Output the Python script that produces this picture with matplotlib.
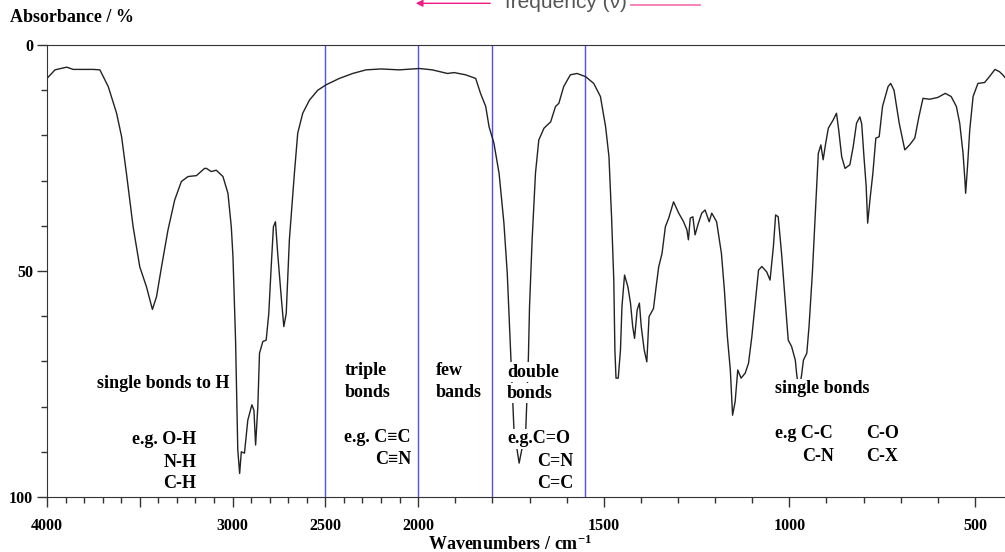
import numpy as np
import matplotlib.pyplot as plt
from matplotlib.lines import Line2D

plt.rcParams['font.family'] = ['Liberation Serif', 'DejaVu Serif']
plt.rcParams['font.weight'] = 'bold'
plt.rcParams['mathtext.fontset'] = 'custom'
plt.rcParams['mathtext.rm'] = 'Liberation Serif:bold'
plt.rcParams['mathtext.it'] = 'Liberation Serif:bold'

# spectrum
wavenumber = [4000, 3957, 3894, 3859, 3751, 3715, 3670, 3625, 3598, 3572, 3536, 3500,
              3464, 3432, 3410, 3383, 3348, 3312, 3276, 3240, 3195, 3151, 3141, 3115,
              3088, 3052, 3025, 3007, 2998, 2984, 2977, 2972, 2962, 2953, 2936, 2918,
              2896, 2885, 2876, 2864, 2855, 2837, 2819, 2805, 2792, 2780, 2769, 2757,
              2738, 2724, 2711, 2694, 2667, 2649, 2622, 2586, 2541, 2496, 2425, 2353,
              2281, 2200, 2102, 1997, 1962, 1921, 1903, 1872, 1845, 1832, 1818, 1809,
              1796, 1782, 1769, 1760, 1742, 1728, 1710, 1703, 1700, 1693, 1684, 1675,
              1661, 1643, 1630, 1621, 1608, 1590, 1572, 1549, 1527, 1509, 1495, 1486,
              1479, 1473, 1470, 1467, 1461, 1455, 1451, 1444, 1435, 1428, 1422, 1417,
              1410, 1404, 1399, 1391, 1384, 1378, 1366, 1360, 1352, 1343, 1334, 1325,
              1312, 1298, 1285, 1276, 1272, 1267, 1260, 1254, 1245, 1236, 1227, 1216,
              1209, 1196, 1183, 1175, 1167, 1159, 1153, 1146, 1139, 1130, 1119, 1110,
              1101, 1092, 1083, 1074, 1061, 1052, 1043, 1037, 1030, 1021, 1012, 1003,
              994, 984, 980, 974, 967, 962, 953, 947, 938, 929, 922, 915, 909, 902, 895,
              882, 873, 867, 859, 850, 837, 828, 819, 810, 805, 799, 793, 789, 782, 775,
              767, 758, 749, 734, 727, 718, 704, 689, 676, 662, 651, 640, 622, 600, 580,
              564, 550, 541, 532, 527, 525, 520, 514, 505, 492, 474, 461, 446, 434, 425,
              419]
absorbance = [7.4, 5.5, 4.9, 5.4, 5.4, 5.5, 9.2, 15.1, 20.3, 28.4, 40.2, 49.1,
              53.5, 58.5, 55.7, 49.1, 40.9, 34.3, 30.2, 29.1, 28.9, 27.3, 27.3, 28.0,
              27.7, 29.1, 32.8, 40.2, 46.8, 65.3, 80.0, 89.6, 94.8, 90.0, 90.3, 83.0,
              79.6, 80.8, 88.5, 80.0, 68.2, 65.6, 65.3, 59.4, 49.1, 40.2, 39.1, 46.1,
              55.7, 62.3, 59.4, 43.1, 28.4, 19.5, 15.1, 12.2, 10.0, 8.8, 7.4, 6.3,
              5.5, 5.3, 5.5, 5.2, 5.5, 6.3, 6.1, 6.6, 7.4, 10.7, 13.6, 18.1,
              21.7, 28.4, 39.4, 50.5, 85.0, 92.5, 85.0, 69.0, 57.9, 43.1, 28.4, 21.0,
              18.4, 17.0, 13.6, 12.9, 9.2, 6.6, 6.3, 7.0, 8.5, 11.4, 18.1, 24.7,
              38.0, 52.0, 67.5, 73.7, 73.7, 67.5, 57.9, 50.9, 53.5, 57.1, 62.3, 64.9,
              58.6, 57.1, 62.3, 67.5, 70.1, 60.1, 58.3, 54.2, 49.1, 46.1, 40.2, 38.3,
              34.7, 37.2, 39.1, 40.9, 43.1, 38.3, 38.0, 42.0, 39.4, 37.2, 36.5, 39.1,
              37.2, 39.1, 46.1, 54.2, 64.5, 71.9, 81.9, 78.9, 71.9, 73.7, 72.6, 70.4,
              64.5, 57.1, 49.8, 49.0, 50.2, 52.0, 44.6, 37.6, 38.0, 46.1, 55.7, 65.3,
              66.7, 69.7, 73.0, 76.5, 73.0, 69.7, 68.2, 62.3, 50.5, 35.8, 24.0, 22.1, 25.4, 21.7, 18.4,
              16.6, 15.1, 18.8, 24.7, 27.3, 26.5, 22.5, 17.3, 15.9, 17.5, 24.7, 31.3, 39.4, 33.6, 28.4,
              20.6, 20.3, 13.6, 9.2, 8.5, 10.0, 17.3, 23.2, 22.1, 20.6, 15.9, 11.8, 12.0, 11.6, 10.7,
              11.4, 13.6, 17.3, 24.0, 29.9, 32.8, 26.9, 18.8, 11.4, 8.5, 8.3, 7.0, 5.4, 5.9, 6.6,
              7.2]

region_edges = [2500, 2000, 1800, 1550]
major_ticks = [4000, 3500, 3000, 2500, 2000, 1500, 1000, 500]
major_labels = ['4000', '', '3000', '2500', '2000', '1500', '1000', '500']

# (wavenumber, absorbance, text, alignment)
notes = [
    (3731, 75.8, 'single bonds to H', 'left'),
    (3194, 88.3, 'e.g. O-H', 'right'),
    (3194, 93.3, 'N-H', 'right'),
    (3194, 98.0, 'C-H', 'right'),
    (2398, 73.0, 'triple', 'left'),
    (2398, 77.8, 'bonds', 'left'),
    (2398, 87.8, 'e.g. C\u2261C', 'left'),
    (2231, 92.7, 'C\u2261N', 'left'),
    (1952, 73.0, 'few', 'left'),
    (1952, 77.8, 'bands', 'left'),
    (1761, 73.4, 'double', 'left'),
    (1761, 78.0, 'bonds', 'left'),
    (1761, 88.1, 'e.g.C=O', 'left'),
    (1680, 93.1, 'C=N', 'left'),
    (1680, 97.9, 'C=C', 'left'),
    (1040, 77.1, 'single bonds', 'left'),
    (1040, 87.0, 'e.g C-C', 'left'),
    (793, 87.0, 'C-O', 'left'),
    (965, 92.0, 'C-N', 'left'),
    (793, 92.0, 'C-X', 'left'),
]


# wavenumber axis: 2000-4000 at half the scale of 400-2000
def forward(x):
    x = np.asarray(x, float)
    return np.where(x > 2000, x + 2000, 2 * x)


def inverse(u):
    u = np.asarray(u, float)
    return np.where(u > 4000, u - 2000, u / 2)


fig = plt.figure(figsize=(10.05, 5.52), dpi=100)
ax = fig.add_axes([47 / 1005, 55 / 552, 958 / 1005, 452 / 552])
ax.set_xscale('function', functions=(forward, inverse))
ax.set_xlim(4000, 419)
ax.set_ylim(100, 0)

for edge in region_edges:
    ax.axvline(edge, color='#5050ff', lw=1, zorder=1)

ax.plot(wavenumber, absorbance, color='#222222', lw=1, zorder=2)

for wn, pct, label, align in notes:
    ax.text(wn, pct, label, fontsize=13, ha=align, va='baseline', zorder=3,
            bbox=dict(fc='white', ec='none', pad=1))

ax.set_xticks(major_ticks)
ax.set_xticklabels(major_labels)
ax.set_xticks(np.arange(500, 4001, 100), minor=True)
ax.set_yticks([0, 50, 100])
ax.set_yticks(np.arange(0, 101, 10), minor=True)
ax.tick_params(which='both', direction='out', color='#333333', width=1,
               labelsize=11.5)
ax.tick_params(which='major', length=7)
ax.tick_params(which='minor', length=4)
ax.tick_params(axis='x', pad=8)
ax.tick_params(axis='y', pad=3)
ax.spines['right'].set_visible(False)
for side in ['left', 'top', 'bottom']:
    ax.spines[side].set_color('#333333')

fig.text(10 / 1005, 1 - 22 / 552, 'Absorbance / %', fontsize=13, va='baseline')
fig.text(428 / 1005, 1 - 550 / 552, 'Wavenumbers / cm$^{-1}$', fontsize=13,
         va='baseline')

# frequency arrow along the top
fig.text(505 / 1005, 1 - 7.5 / 552, 'frequency (\u03bd)', family='Liberation Sans',
         weight='normal', fontsize=15, color='#555555', va='baseline')
ax.annotate('', xy=(413, 552 - 3.3), xytext=(493, 552 - 3.3),
            xycoords='figure pixels', textcoords='figure pixels',
            arrowprops=dict(arrowstyle='-|>', color='#ee1c84', lw=1,
                            mutation_scale=10))
fig.add_artist(Line2D([631 / 1005, 700 / 1005], [1 - 5 / 552, 1 - 5 / 552],
                      color='#f37ab5', lw=1.3))

fig.savefig('out.png', dpi=100)
